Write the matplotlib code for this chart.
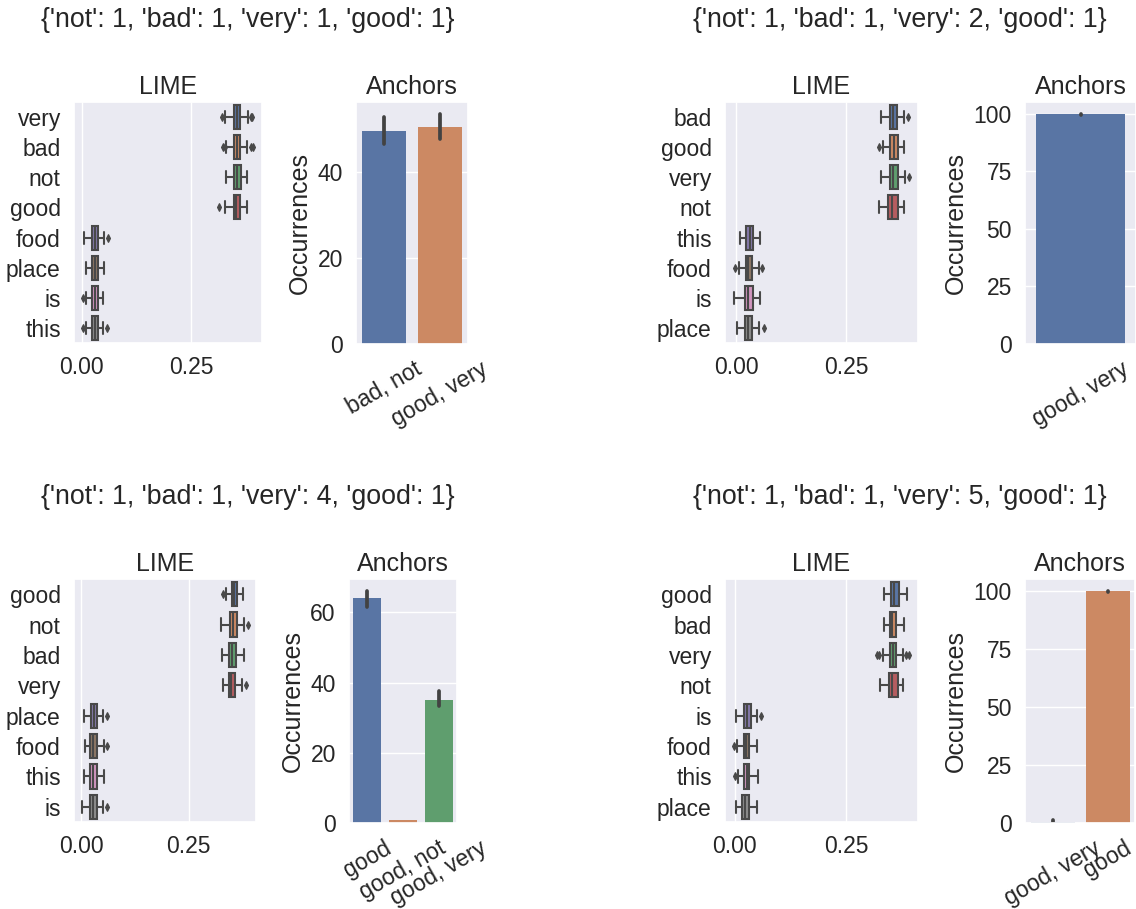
import matplotlib
matplotlib.use("Agg")
import matplotlib.pyplot as plt
from matplotlib.ticker import MaxNLocator, FormatStrFormatter
import seaborn as sns

# one entry per panel (top-left, top-right, bottom-left, bottom-right)
titles = [
    "{'not': 1, 'bad': 1, 'very': 1, 'good': 1}",
    "{'not': 1, 'bad': 1, 'very': 2, 'good': 1}",
    "{'not': 1, 'bad': 1, 'very': 4, 'good': 1}",
    "{'not': 1, 'bad': 1, 'very': 5, 'good': 1}",
]

# LIME weights, box statistics per word
lime_words = [
    ["very", "bad", "not", "good", "food", "place", "is", "this"],
    ["bad", "good", "very", "not", "this", "food", "is", "place"],
    ["good", "not", "bad", "very", "place", "food", "this", "is"],
    ["good", "bad", "very", "not", "is", "food", "this", "place"],
]
lime_whislo = [
    [0.328, 0.330, 0.330, 0.328, 0.005, 0.010, 0.010, 0.009],
    [0.329, 0.333, 0.328, 0.323, 0.008, 0.007, -0.005, 0.002],
    [0.338, 0.325, 0.327, 0.330, 0.005, 0.008, 0.005, 0.002],
    [0.334, 0.335, 0.332, 0.325, 0.004, 0.006, 0.007, 0.004],
]
lime_q1 = [
    [0.347, 0.348, 0.347, 0.347, 0.022, 0.024, 0.024, 0.024],
    [0.348, 0.349, 0.348, 0.345, 0.023, 0.022, 0.020, 0.020],
    [0.351, 0.346, 0.344, 0.344, 0.022, 0.020, 0.020, 0.019],
    [0.350, 0.347, 0.349, 0.345, 0.021, 0.020, 0.020, 0.017],
]
lime_med = [
    [0.354, 0.355, 0.354, 0.353, 0.030, 0.030, 0.030, 0.030],
    [0.355, 0.357, 0.355, 0.353, 0.031, 0.028, 0.028, 0.028],
    [0.356, 0.354, 0.351, 0.350, 0.029, 0.028, 0.026, 0.026],
    [0.358, 0.352, 0.355, 0.352, 0.028, 0.026, 0.027, 0.024],
]
lime_q3 = [
    [0.362, 0.362, 0.363, 0.362, 0.037, 0.037, 0.036, 0.036],
    [0.364, 0.366, 0.366, 0.366, 0.038, 0.036, 0.038, 0.037],
    [0.363, 0.363, 0.361, 0.358, 0.037, 0.037, 0.036, 0.037],
    [0.367, 0.361, 0.362, 0.365, 0.036, 0.033, 0.033, 0.033],
]
lime_whishi = [
    [0.379, 0.377, 0.378, 0.378, 0.051, 0.051, 0.049, 0.049],
    [0.380, 0.380, 0.383, 0.380, 0.054, 0.051, 0.054, 0.051],
    [0.378, 0.379, 0.379, 0.375, 0.051, 0.052, 0.052, 0.051],
    [0.387, 0.380, 0.378, 0.377, 0.050, 0.050, 0.052, 0.049],
]
lime_fliers = [
    [[0.319, 0.386, 0.388], [0.322, 0.326, 0.386, 0.392], [], [0.313], [0.060], [], [0.002], [0.0015, 0.057]],
    [[0.389], [0.323], [0.392], [], [], [-0.0015, 0.059], [], [0.063]],
    [[0.330], [0.388], [], [0.383], [0.059], [0.060], [], [0.060]],
    [[], [], [0.319, 0.323, 0.384, 0.391], [], [0.059], [-0.002], [0.000], []],
]

# Anchors occurrences (mean and confidence interval)
anchor_labels = [
    ["bad, not", "good, very"],
    ["good, very"],
    ["good", "good, not", "good, very"],
    ["good, very", "good"],
]
anchor_counts = [[49.6, 50.5], [99.7], [64.0, 0.95, 34.9], [0.4, 99.7]]
anchor_ci_low = [[46.5, 47.7], [99.5], [61.4, 0.95, 33.2], [0.0, 99.5]]
anchor_ci_high = [[52.8, 53.6], [100.0], [66.2, 0.95, 37.5], [1.1, 100.0]]

sns.set_theme(context="notebook", style="darkgrid", font_scale=1.5)
plt.rcParams["font.family"] = ["Liberation Sans", "DejaVu Sans"]

W, H = 1136, 909
fig = plt.figure(figsize=(W / 100, H / 100), dpi=100)


def px_axes(left, top, right, bottom):
    return fig.add_axes([left / W, 1 - bottom / H, (right - left) / W, (bottom - top) / H])


lime_rects = [(74, 102, 262, 343), (725, 102, 918, 343), (74, 579, 256, 822), (725, 579, 918, 822)]
anchor_rects = [(356, 102, 468, 344), (1025, 102, 1136, 344), (349, 579, 457, 823), (1025, 579, 1135, 823)]
title_pos = [(248, 20), (900, 20), (248, 497), (900, 497)]

palette = [sns.desaturate(c, 0.75) for c in sns.color_palette("deep", 8)]
gray = "#494949"

for p in range(4):
    # figure-level title for each pair
    fig.text(title_pos[p][0] / W, 1 - title_pos[p][1] / H, titles[p],
             ha="center", va="center", fontsize=19.3)

    # LIME boxplot
    ax = px_axes(*lime_rects[p])
    words = lime_words[p]
    stats = []
    for i, w in enumerate(words):
        stats.append(dict(label=w, whislo=lime_whislo[p][i], q1=lime_q1[p][i],
                          med=lime_med[p][i], q3=lime_q3[p][i],
                          whishi=lime_whishi[p][i], fliers=lime_fliers[p][i]))
    bp = ax.bxp(stats, positions=range(len(words)), widths=0.8,
                orientation="horizontal", patch_artist=True, manage_ticks=False,
                boxprops=dict(edgecolor=gray, linewidth=1.5),
                whiskerprops=dict(color=gray, linewidth=1.5),
                capprops=dict(color=gray, linewidth=1.5),
                medianprops=dict(color=gray, linewidth=1.5),
                flierprops=dict(marker="d", markerfacecolor=gray,
                                markeredgecolor=gray, markersize=4,
                                markeredgewidth=0.8))
    for i, box in enumerate(bp["boxes"]):
        box.set_facecolor(palette[i])
    ax.set_yticks(range(len(words)), words)
    ax.set_ylim(len(words) - 0.5, -0.5)
    ax.set_xticks([0, 0.25])
    ax.xaxis.set_major_formatter(FormatStrFormatter("%.2f"))
    ax.yaxis.grid(False)
    ax.set_title("LIME")

    # Anchors barplot
    ax = px_axes(*anchor_rects[p])
    labels = anchor_labels[p]
    n = len(labels)
    ax.bar(range(n), anchor_counts[p], width=0.8, color=palette[:n], linewidth=0)
    for i in range(n):
        ax.plot([i, i], [anchor_ci_low[p][i], anchor_ci_high[p][i]],
                color=".26", linewidth=2.7)
    ax.set_xlim(-0.5, n - 0.5)
    ax.set_ylim(bottom=0)
    ax.yaxis.set_major_locator(MaxNLocator(nbins=5, steps=[1, 2, 2.5, 5, 10]))
    ax.set_xticks(range(n), labels, rotation=30)
    ax.xaxis.grid(False)
    ax.set_ylabel("Occurrences")
    ax.set_title("Anchors")

fig.savefig("out.png", dpi=100)
